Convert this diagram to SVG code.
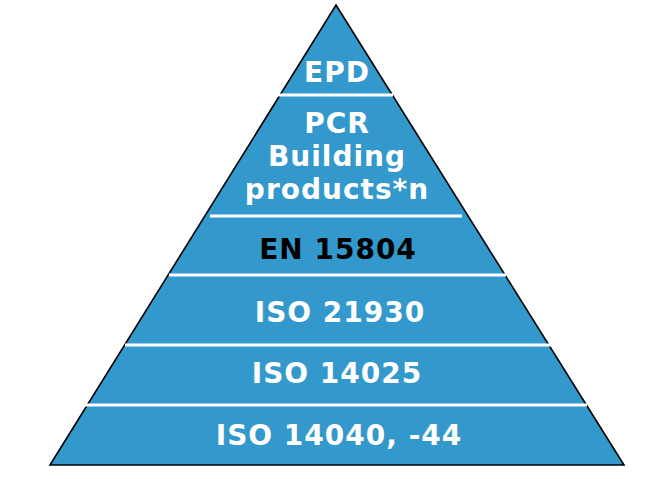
<svg xmlns="http://www.w3.org/2000/svg" width="665" height="479" viewBox="0 0 665 479">
<style>
.t{font-family:"DejaVu Sans","Verdana",sans-serif;font-weight:bold;font-size:28px;letter-spacing:1px;text-anchor:middle;fill:#ffffff}
.k{fill:#000000}
.sep{stroke:#ffffff;stroke-width:3;fill:none}
</style>
<rect width="665" height="479" fill="#ffffff"/>
<g id="pyramid">
<polygon points="336,5 624,465 50,465" fill="#3399cc" stroke="#000000" stroke-width="1.6" stroke-linejoin="miter"/>
</g>
<g id="separators">
<line class="sep" x1="275" y1="95" x2="393" y2="95"/>
<line class="sep" x1="210" y1="216" x2="462" y2="216"/>
<line class="sep" x1="169" y1="275" x2="506" y2="275"/>
<line class="sep" x1="125" y1="345" x2="553" y2="345"/>
<line class="sep" x1="82" y1="405" x2="587" y2="405"/>
</g>
<g id="epd"><text class="t" x="337" y="82">EPD</text></g>
<g id="pcr"><text class="t" x="337" y="133">PCR</text><text class="t" x="337" y="166">Building</text><text class="t" x="337" y="199">products*n</text></g>
<g id="en15804"><text class="t k" x="338" y="259">EN 15804</text></g>
<g id="iso21930"><text class="t" x="340" y="322">ISO 21930</text></g>
<g id="iso14025"><text class="t" x="337" y="383">ISO 14025</text></g>
<g id="iso14040"><text class="t" x="339" y="445">ISO 14040, -44</text></g>
</svg>
